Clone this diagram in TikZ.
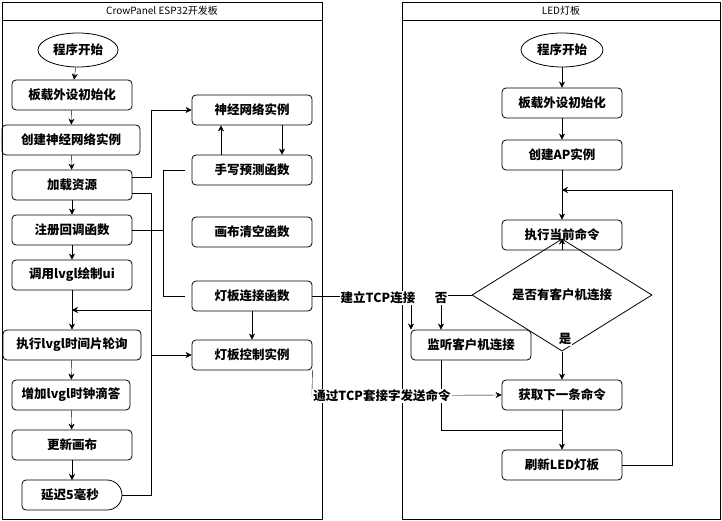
\documentclass[tikz,border=0pt]{standalone}
\usepackage{fontspec}
\setmainfont{Noto Sans CJK SC}
\usetikzlibrary{positioning,shapes.geometric,arrows.meta}
\tikzset{
  box/.style={draw, thick, rounded corners=4pt, minimum height=30pt, font=\fontsize{12.5}{14}\selectfont\bfseries, inner sep=1pt},
  oval/.style={draw, thick, ellipse, minimum width=78pt, minimum height=34pt, font=\fontsize{12.5}{14}\selectfont\bfseries},
  cond/.style={draw, thick, diamond, minimum width=180pt, minimum height=50pt, inner sep=0pt, font=\fontsize{12.5}{14}\selectfont\bfseries},
  arr/.style={-{Stealth[length=6pt,width=6pt]}},
  lbl/.style={fill=white, inner sep=1pt, font=\fontsize{12.5}{14}\selectfont\bfseries},
}
\begin{document}
\begin{tikzpicture}[x=1pt,y=-1pt]
        \useasboundingbox (0,0) rectangle (722,521);
        % ~~~~ Paneles ~~~~ %
        \draw (2,2) rectangle (322,519);
        \draw (2,20) -- (322,20);
        \node[font=\fontsize{10}{12}\selectfont] (tl) at (162,11) {CrowPanel ESP32开发板};
        \draw (402,2) rectangle (720,519);
        \draw (402,20) -- (720,20);
        \node[font=\fontsize{10}{12}\selectfont] (tr) at (561,11) {LED灯板};

        % ~~~~ Columna izquierda ~~~~ %
        \node[oval] (a0) at (78,50) {程序开始};
        \node[box, minimum width=120pt] (a1) at (72,95) {板载外设初始化};
        \node[box, minimum width=138pt] (a2) at (71,140) {创建神经网络实例};
        \node[box, minimum width=120pt] (a3) at (72,185) {加载资源};
        \node[box, minimum width=120pt] (a4) at (72,230) {注册回调函数};
        \node[box, minimum width=120pt] (a5) at (72,275) {调用lvgl绘制ui};
        \node[box, minimum width=138pt] (a6) at (72,345) {执行lvgl时间片轮询};
        \node[box, minimum width=118pt] (a7) at (71,395) {增加lvgl时钟滴答};
        \node[box, minimum width=120pt] (a8) at (72,445) {更新画布};
        \draw[thick] (32,480) -- (107,480) arc (-90:90:15) -- (32,510)
            [rounded corners=4pt] -- (22,510) -- (22,480) -- (32,480);
        \node[font=\fontsize{12.5}{14}\selectfont\bfseries] (a9) at (70,495) {延迟5毫秒};
        \coordinate (a9e) at (122,495);

        % ~~~~ Funciones ~~~~ %
        \node[box, minimum width=120pt] (f1) at (252,110) {神经网络实例};
        \node[box, minimum width=120pt] (f2) at (252,170) {手写预测函数};
        \node[box, minimum width=120pt] (f3) at (252,232) {画布清空函数};
        \node[box, minimum width=120pt] (f4) at (252,296) {灯板连接函数};
        \node[box, minimum width=120pt] (f5) at (252,355) {灯板控制实例};

        \foreach \i/\j in {a0/a1,a1/a2,a2/a3,a3/a4,a4/a5,a5/a6,a6/a7,a7/a8}
            \draw[arr] (\i) -- (\j);
        \draw[arr] (a8.south) -- (72,480);
        \coordinate (loop) at (72,310);
        \draw[arr] (a9e) -- (151,495) -- (151,310) -- (loop);
        \draw[arr] (a3.east |- 0,177) -- (151,177) -- (151,110) -- (f1);
        \draw[arr] (a3.east |- 0,193) -- (151,193) -- (151,355) -- (f5);
        \draw[arr] (f2.north -| 221,0) -- (f1.south -| 221,0);
        \draw[arr] (f1.south -| 282,0) -- (f2.north -| 282,0);
        \draw[arr] (f4) -- (f5);
        \draw (a4.east) -- (163,230);
        \draw (185,170) -- (163,170) -- (163,296) -- (185,296);

        % ~~~~ Columna derecha ~~~~ %
        \node[oval, minimum width=82pt] (b0) at (562,50) {程序开始};
        \node[box, minimum width=120pt] (b1) at (562,103) {板载外设初始化};
        \node[box, minimum width=120pt] (b2) at (562,155) {创建AP实例};
        \node[box, minimum width=120pt] (b3) at (562,235) {执行当前命令};
        \node[cond] (b4) at (562,295) {是否有客户机连接};
        \node[box, minimum width=120pt] (b5) at (471,345) {监听客户机连接};
        \node[box, minimum width=120pt] (b6) at (562,395) {获取下一条命令};
        \node[box, minimum width=120pt] (b7) at (562,465) {刷新LED灯板};
        \coordinate (back) at (562,190);

        \draw[arr] (b0) -- (b1);
        \draw[arr] (b1) -- (b2);
        \draw[arr] (b2) -- (b3);
        \draw[arr] (b3) -- (b4);
        \draw[arr] (b4.west) -- (441,295) -- (b5.north -| 441,0);
        \node[lbl] (no) at (441,298) {否};
        \draw[arr] (b4) -- (b6);
        \node[lbl] (yes) at (565,339) {是};
        \draw[arr] (b6) -- (b7);
        \draw (b5.south -| 441,0) -- (441,430) -- (562,430);
        \draw[arr] (b7.east) -- (672,465) -- (672,190) -- (back);

        % ~~~~ Conexiones TCP ~~~~ %
        \draw[arr] (f4.east) -- (411,296) -- (b5.north -| 411,0);
        \node[lbl] (tcp1) at (378,298) {建立TCP连接};
        \draw[arr] (f5.south east) -- (312,396) -- (b6.west);
        \node[lbl] (tcp2) at (382,396) {通过TCP套接字发送命令};
    \end{tikzpicture}
\end{document}
